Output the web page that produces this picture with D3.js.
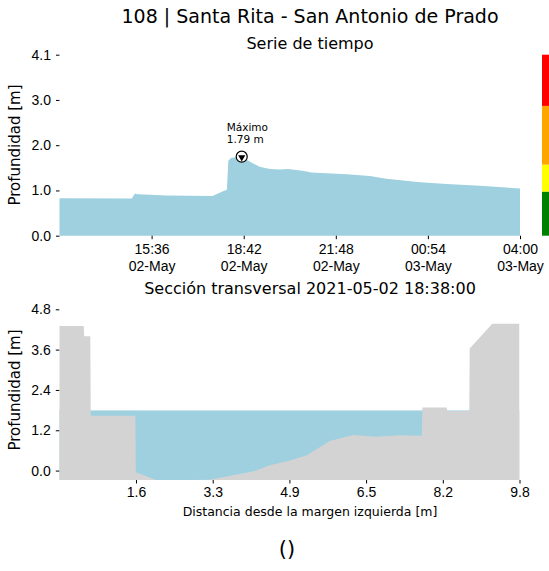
<!DOCTYPE html>
<html>
<head>
<meta charset="utf-8">
<script src="https://cdn.jsdelivr.net/npm/d3@7"></script>
<style>
  body { margin: 0; background: #fff; }
  svg { font-family: "DejaVu Sans", sans-serif; }
</style>
</head>
<body>
<svg width="549" height="571"></svg>
<script>
// time series (depth in m)
var times = ["2021-05-02 12:30", "2021-05-02 14:56", "2021-05-02 15:02", "2021-05-02 15:10",
  "2021-05-02 16:06", "2021-05-02 17:39", "2021-05-02 17:59", "2021-05-02 18:08",
  "2021-05-02 18:11", "2021-05-02 18:16", "2021-05-02 18:28", "2021-05-02 18:38",
  "2021-05-02 18:54", "2021-05-02 19:14", "2021-05-02 19:35", "2021-05-02 19:55",
  "2021-05-02 20:11", "2021-05-02 20:41", "2021-05-02 20:59", "2021-05-02 22:10",
  "2021-05-02 22:57", "2021-05-02 23:30", "2021-05-03 00:38", "2021-05-03 01:32",
  "2021-05-03 02:39", "2021-05-03 04:00"];
var depths = [0.85, 0.84, 0.95, 0.94, 0.91, 0.90, 1.00, 1.04, 1.70, 1.76, 1.78, 1.79,
  1.68, 1.56, 1.51, 1.50, 1.51, 1.47, 1.43, 1.39, 1.35, 1.29, 1.21, 1.17, 1.13, 1.07];

var xTickTimes = ["2021-05-02 15:36", "2021-05-02 18:42", "2021-05-02 21:48",
  "2021-05-03 00:54", "2021-05-03 04:00"];
var yTickVals = [0, 1.025, 2.05, 3.075, 4.1];
var yTickLabels = ["0.0", "1.0", "2.0", "3.0", "4.1"];

var maxTime = "2021-05-02 18:38", maxDepth = 1.79;

// alert colour bar
var alertLevels = [0, 1.0, 1.61, 2.94, 4.1];
var alertColors = ["#008000", "#ffff00", "#ffa500", "#ff0000"];

// cross section
var sectionX = [0, 0.52, 0.53, 0.66, 0.67, 1.62, 1.63, 2.1, 3.2, 4.12, 4.48, 4.91, 5.26,
  5.76, 6.25, 6.75, 7.25, 7.72, 7.73, 8.25, 8.26, 8.73, 8.74, 9.22, 9.8];
var sectionY = [4.3, 4.3, 4.0, 4.0, 1.63, 1.63, -0.05, -0.30, -0.27, -0.03, 0.16, 0.30, 0.45,
  0.88, 1.06, 1.01, 1.05, 1.04, 1.88, 1.88, 1.77, 1.77, 3.63, 4.37, 4.37];
var waterLevel = 1.79;
var secXTicks = [1.633, 3.267, 4.9, 6.533, 8.167, 9.8];
var secYTicks = [0, 1.2, 2.4, 3.6, 4.8];

var parseTime = d3.timeParse("%Y-%m-%d %H:%M");
var blue = "#9ed0e0", grey = "#d3d3d3";

var svg = d3.select("svg");

// ---------- top: serie de tiempo ----------
var series = times.map(function(t, i) { return {date: parseTime(t), depth: depths[i]}; });

var x = d3.scaleTime()
    .domain([series[0].date, series[series.length - 1].date])
    .range([59.5, 520]);
var y = d3.scaleLinear().domain([0, 4.1]).range([235.7, 54.7]);

svg.append("text").attr("x", 310).attr("y", 23).attr("text-anchor", "middle")
    .style("font-size", "19px").text("108 | Santa Rita - San Antonio de Prado");
svg.append("text").attr("x", 310).attr("y", 49).attr("text-anchor", "middle")
    .style("font-size", "16px").text("Serie de tiempo");

var area = d3.area()
    .x(function(d) { return x(d.date); })
    .y0(y(0))
    .y1(function(d) { return y(d.depth); });

svg.append("path").datum(series).attr("d", area).attr("fill", blue);

var yAxis = svg.append("g")
    .attr("transform", "translate(59.5,0)")
    .call(d3.axisLeft(y).tickValues(yTickVals).tickSize(3.5).tickPadding(5)
      .tickFormat(function(d, i) { return yTickLabels[i]; }));
yAxis.select(".domain").remove();
yAxis.selectAll("text").style("font-size", "14px").attr("fill", "#000");

var xAxis = svg.append("g")
    .attr("transform", "translate(0,235.7)")
    .call(d3.axisBottom(x).tickValues(xTickTimes.map(parseTime)).tickSize(3.5).tickFormat(""));
xAxis.select(".domain").remove();
xAxis.selectAll(".tick").each(function(d) {
  var t = d3.select(this).append("text").attr("fill", "#000").attr("text-anchor", "middle")
      .style("font-size", "14px");
  t.append("tspan").attr("x", 0).attr("y", 18.5).text(d3.timeFormat("%H:%M")(d));
  t.append("tspan").attr("x", 0).attr("y", 35).text(d3.timeFormat("%d-%b")(d));
});

svg.append("text")
    .attr("transform", "translate(20,145) rotate(-90)")
    .attr("text-anchor", "middle").style("font-size", "15px").text("Profundidad [m]");

// max marker
var mx = x(parseTime(maxTime)), my = y(maxDepth);
svg.append("circle").attr("cx", mx).attr("cy", my).attr("r", 5.5)
    .attr("fill", "#fff").attr("stroke", "#000").attr("stroke-width", 1.2);
svg.append("path")
    .attr("d", d3.symbol().type(d3.symbolTriangle).size(22))
    .attr("transform", "translate(" + mx + "," + (my + 0.6) + ") rotate(180)")
    .attr("fill", "#000");
var ann = svg.append("text").style("font-size", "10.5px");
ann.append("tspan").attr("x", mx - 15).attr("y", my - 26).text("Máximo");
ann.append("tspan").attr("x", mx - 15).attr("y", my - 14).text(maxDepth.toFixed(2) + " m");

// colour bar
svg.append("g").selectAll("rect")
  .data(alertColors)
  .enter().append("rect")
    .attr("x", 542).attr("width", 10)
    .attr("y", function(d, i) { return y(alertLevels[i + 1]); })
    .attr("height", function(d, i) { return y(alertLevels[i]) - y(alertLevels[i + 1]); })
    .attr("fill", function(d) { return d; });

// ---------- bottom: sección transversal ----------
var profile = sectionX.map(function(v, i) { return {x: v, y: sectionY[i]}; });

var sx = d3.scaleLinear().domain([0, 9.8]).range([59.3, 519.5]);
var sy = d3.scaleLinear().domain([-0.28, 4.8]).range([480, 309.3]);

svg.append("text").attr("x", 310).attr("y", 294).attr("text-anchor", "middle")
    .style("font-size", "16px").text("Sección transversal 2021-05-02 18:38:00");

svg.append("clipPath").attr("id", "clip-sec")
  .append("rect").attr("x", sx(0)).attr("y", sy(4.8))
    .attr("width", sx(9.8) - sx(0)).attr("height", sy(-0.28) - sy(4.8));

var sec = svg.append("g").attr("clip-path", "url(#clip-sec)");

sec.append("rect")
    .attr("x", sx(0)).attr("width", sx(9.8) - sx(0))
    .attr("y", sy(waterLevel)).attr("height", sy(-0.28) - sy(waterLevel))
    .attr("fill", blue);

sec.append("path").datum(profile)
    .attr("d", d3.area()
      .x(function(d) { return sx(d.x); })
      .y0(sy(-0.28))
      .y1(function(d) { return sy(d.y); }))
    .attr("fill", grey);

var syAxis = svg.append("g")
    .attr("transform", "translate(59.3,0)")
    .call(d3.axisLeft(sy).tickValues(secYTicks).tickSize(3.5).tickPadding(5)
      .tickFormat(d3.format(".1f")));
syAxis.select(".domain").remove();
syAxis.selectAll("text").style("font-size", "14px").attr("fill", "#000");

var sxAxis = svg.append("g")
    .attr("transform", "translate(0,480)")
    .call(d3.axisBottom(sx).tickValues(secXTicks).tickSize(3.5).tickPadding(4)
      .tickFormat(d3.format(".1f")));
sxAxis.select(".domain").remove();
sxAxis.selectAll("text").style("font-size", "14px").attr("fill", "#000");

svg.append("text")
    .attr("transform", "translate(20,390) rotate(-90)")
    .attr("text-anchor", "middle").style("font-size", "15px").text("Profundidad [m]");

svg.append("text").attr("x", 310).attr("y", 516).attr("text-anchor", "middle")
    .style("font-size", "12.5px").text("Distancia desde la margen izquierda [m]");

svg.append("text").attr("x", 287).attr("y", 556).attr("text-anchor", "middle")
    .style("font-size", "21px").text("()");
</script>
</body>
</html>
